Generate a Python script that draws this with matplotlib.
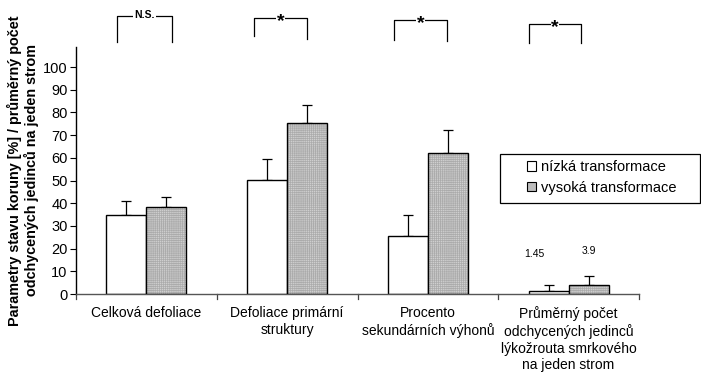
import matplotlib
matplotlib.use("Agg")
import matplotlib.pyplot as plt
from matplotlib.patches import Rectangle, Patch
import numpy as np

plt.rcParams['font.family'] = ['Liberation Sans', 'DejaVu Sans']
plt.rcParams['hatch.linewidth'] = 0.5

categories = ["Celková defoliace", "Defoliace primární\nstruktury",
              "Procento\nsekundárních výhonů",
              "Průměrný počet\nodchycených jedinců\nlýkožrouta smrkového\nna jeden strom"]
low_values = [34.8, 50.2, 25.5, 1.45]
low_errors = [6.2, 9.1, 9.4, 2.6]
high_values = [38.3, 75.3, 62.1, 3.9]
high_errors = [4.6, 7.8, 10.1, 4.0]
series_names = ["nízká transformace", "vysoká transformace"]
significance = ["N.S.", "*", "*", "*"]
value_labels = ["1.45", "3.9"]
yticks = list(range(0, 101, 10))

fig = plt.figure(figsize=(7.01, 3.72), dpi=100)
ax = fig.add_axes([76/701, 1-294/372, (639-76)/701, (294-46.6)/372])

x = np.arange(len(categories))
w = 0.285
ax.bar(x - w/2, low_values, w, color='white', edgecolor='black', linewidth=1.0,
       label=series_names[0], zorder=2)
# gray hatched fill (light checker), then black outline
ax.bar(x + w/2, high_values, w, color='#cfcfcf', edgecolor='#ababab', linewidth=0,
       hatch='++++++++', zorder=2)
ax.bar(x + w/2, high_values, w, fill=False, edgecolor='black', linewidth=1.0, zorder=3)
# error bars (upper only)
ax.errorbar(x - w/2, low_values, yerr=[np.zeros(4), low_errors], fmt='none',
            ecolor='black', elinewidth=0.9, capsize=3.5, capthick=0.9, zorder=1)
ax.errorbar(x + w/2, high_values, yerr=[np.zeros(4), high_errors], fmt='none',
            ecolor='black', elinewidth=0.9, capsize=3.5, capthick=0.9, zorder=1)

ax.set_xlim(-0.5, len(categories) - 0.5)
ax.set_ylim(0, 109)
ax.set_yticks(yticks)
ax.set_yticklabels([str(t) for t in yticks], fontsize=10.5)
ax.tick_params(axis='y', direction='out', length=4, width=0.8, pad=2)
ax.set_xticks(x)
ax.set_xticklabels(categories, fontsize=10, linespacing=1.25)
ax.tick_params(axis='x', length=0, pad=8.5)
for b in np.arange(-0.5, len(categories), 1.0):
    ax.plot([b, b], [0, -2.3], color='#444444', lw=0.9, clip_on=False)

for s in ['top', 'right']:
    ax.spines[s].set_visible(False)
ax.spines['left'].set_linewidth(1.0)
ax.spines['bottom'].set_color('#555555')
ax.spines['bottom'].set_linewidth(1.0)

ax.set_ylabel("Parametry stavu koruny [%] / průměrný počet\nodchycených jedinců na jeden strom",
              fontsize=10.4, fontweight='bold', linespacing=1.15, labelpad=3)

# value labels for last group
ax.text(x[3] - w/2 - 0.1, 17.8, value_labels[0], fontsize=7.5, ha='center', va='center')
ax.text(x[3] + w/2 + 0.0, 18.8, value_labels[1], fontsize=7.5, ha='center', va='center')

# significance brackets
left_off = [-0.21, -0.235, -0.24, -0.28]
right_off = [0.18, 0.14, 0.135, 0.09]
top_y = [122.6, 121.5, 120.7, 119.0]
bot_l = [111.0, 113.5, 112.0, 110.5]
bot_r = [111.0, 112.5, 111.5, 110.5]
for i in range(4):
    xl = x[i] + left_off[i]
    xr = x[i] + right_off[i]
    ax.plot([xl, xl, xr, xr], [bot_l[i], top_y[i], top_y[i], bot_r[i]],
            color='black', lw=0.9, clip_on=False)
    xm = (xl + xr) / 2
    if significance[i] == "*":
        ax.text(xm, top_y[i] - 1.6, "*", fontsize=14, fontweight='bold',
                ha='center', va='center',
                bbox=dict(facecolor='white', edgecolor='none', pad=0.3))
    else:
        ax.text(xm, top_y[i] + 0.3, significance[i], fontsize=7.5, fontweight='bold',
                ha='center', va='center',
                bbox=dict(facecolor='white', edgecolor='none', pad=1.0))

# legend: frame drawn separately, entries via legend
fig.patches.append(Rectangle((500/701, 1-203/372), 200/701, 49/372,
                             transform=fig.transFigure, facecolor='white',
                             edgecolor='black', linewidth=0.9, zorder=5))
handles = [Patch(facecolor='white', edgecolor='black', linewidth=0.8),
           Patch(facecolor='#bdbdbd', edgecolor='black', linewidth=0.8)]
leg = fig.legend(handles, series_names, loc='upper left',
                 bbox_to_anchor=(527/701, 1-160/372), frameon=False,
                 fontsize=10.5, handlelength=0.65, handleheight=0.65,
                 handletextpad=0.3, borderpad=0, labelspacing=0.45,
                 borderaxespad=0)
leg.set_zorder(6)

fig.savefig("out.png", dpi=100)
